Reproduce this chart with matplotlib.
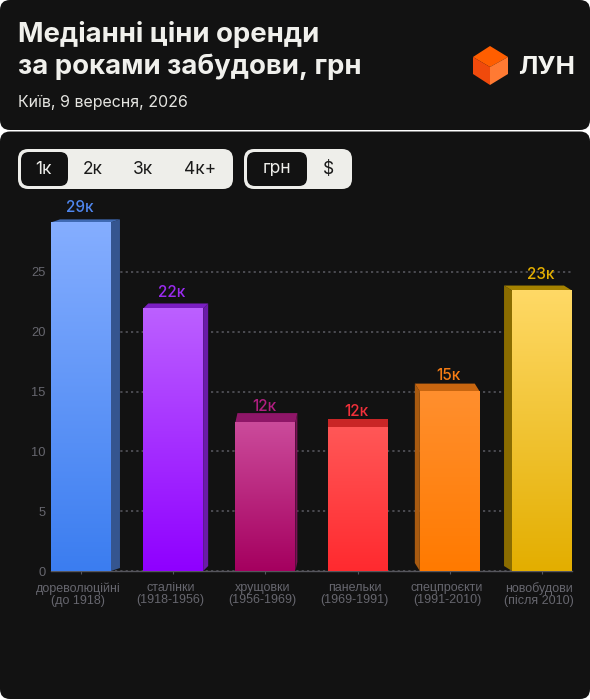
import numpy as np
import matplotlib
matplotlib.use('Agg')
import matplotlib.pyplot as plt
from matplotlib.colors import LinearSegmentedColormap
from matplotlib.patches import FancyBboxPatch, Polygon
from matplotlib.transforms import ScaledTranslation

# data
categories = ['дореволюційні\n(до 1918)', 'сталінки\n(1918-1956)', 'хрущовки\n(1956-1969)',
              'панельки\n(1969-1991)', 'спецпроєкти\n(1991-2010)', 'новобудови\n(після 2010)']
values = [29.15, 21.95, 12.45, 12.0, 15.0, 23.45]
value_labels = ['29к', '22к', '12к', '12к', '15к', '23к']
y_ticks = [0, 5, 10, 15, 20, 25]
room_tabs = ['1к', '2к', '3к', '4к+']
currency_tabs = ['грн', '$']

# colours of each bar
grad_top = ['#85AEFF', '#BC60FF', '#CB4B9B', '#FF5757', '#FF8F2E', '#FFD966']
grad_bottom = ['#3B7DF0', '#8F00FF', '#A5005F', '#FF2A2F', '#FF7A00', '#E3AE00']
side_colors = ['#35558F', '#6A1BA8', '#7A1055', '#A02020', '#A85A10', '#8A6C00']
top_colors = ['#3F6AB3', '#7A1EC2', '#8F1668', '#C92626', '#C86610', '#A58200']
label_colors = ['#4F86EE', '#9A2BF0', '#B01E80', '#F0303A', '#F57C14', '#E3AE00']
# 3d offset of the back face in pixels (x, y), gap from back edge to label centre
depth_x = [9, 5, 2, 0, -5, -8]
depth_y = [3, 5, 9, 8, 8, 5]
label_gap = [12, 11, 7, 8, 8, 11]

BG = '#121212'
LIGHT = '#EEEEEA'
W, H = 590, 700

plt.rcParams['font.family'] = ['Inter', 'DejaVu Sans']
fig = plt.figure(figsize=(W / 100, H / 100), dpi=100, facecolor='white')

# page furniture in pixel coordinates
bg = fig.add_axes([0, 0, 1, 1])
bg.set_xlim(0, W)
bg.set_ylim(H, 0)
bg.axis('off')


def box(x, y, w, h, r, fc, ec='none', lw=0, z=1):
    bg.add_patch(FancyBboxPatch((x + r, y + r), w - 2 * r, h - 2 * r,
                                boxstyle='round,pad=%s,rounding_size=%s' % (r, r),
                                fc=fc, ec=ec, lw=lw, zorder=z))


box(0, 0, W, 130, 10, BG)
box(0, 131.5, W, 567.5, 10, BG)

bg.text(18, 34.5, 'Медіанні ціни оренди', color='#F0F0EC', fontsize=19.8, fontweight='bold', va='center')
bg.text(18, 66.5, 'за роками забудови, грн', color='#F0F0EC', fontsize=19.8, fontweight='bold', va='center')
bg.text(18, 102, 'Київ, 9 вересня, 2026', color='#E4E4E0', fontsize=11.5, va='center')

# logo
bg.add_patch(Polygon([(490, 46), (508, 57), (490, 67), (473, 57)], fc='#FF5E00', ec='none', zorder=2))
bg.add_patch(Polygon([(473, 57), (490, 67), (490, 85), (473, 74)], fc='#F04A0C', ec='none', zorder=2))
bg.add_patch(Polygon([(490, 67), (508, 57), (508, 74), (490, 85)], fc='#FF7A33', ec='none', zorder=2))
bg.text(518, 67, 'ЛУН', color='#F4F4F0', fontsize=18.7, fontweight='bold', va='center')

# tabs
box(18, 149, 215, 40, 10, LIGHT)
box(244, 149, 108, 40, 10, LIGHT)
box(21, 152, 47, 34, 8, BG)
box(247, 152, 60, 34, 8, BG)
for tab, cx in zip(room_tabs, [43, 93, 143, 200]):
    bg.text(cx, 169, tab, ha='center', va='center', fontsize=12.5,
            color=LIGHT if tab == '1к' else '#1A1A1A')
for tab, cx in zip(currency_tabs, [277, 328]):
    bg.text(cx, 169, tab, ha='center', va='center', fontsize=12.5,
            color=LIGHT if tab == 'грн' else '#1A1A1A')

# chart: 92.2 px per category, 11.96 px per unit
x_scale = 92.2
y_scale = 11.96
ax_left, ax_right, ax_bottom = 51, 572, 571
ymax = 31
ax = fig.add_axes([ax_left / W, (H - ax_bottom) / H, (ax_right - ax_left) / W, ymax * y_scale / H])
ax.patch.set_alpha(0)
xs = np.arange(len(values))
bar_w = 0.65

for i, v in enumerate(values):
    x0, x1 = xs[i] - bar_w / 2, xs[i] + bar_w / 2
    dx = depth_x[i] / x_scale
    dy = depth_y[i] / y_scale
    cmap = LinearSegmentedColormap.from_list('b%d' % i, [grad_top[i], grad_bottom[i]])
    ax.imshow(np.linspace(0, 1, 256).reshape(-1, 1), cmap=cmap, aspect='auto',
              extent=(x0, x1, 0, v), zorder=4, interpolation='bilinear')
    # side and top faces
    edge = x1 if dx > 0 else x0
    if dx != 0:
        ax.add_patch(Polygon([(edge, 0), (edge + dx, dy), (edge + dx, v + dy), (edge, v)],
                             fc=side_colors[i], ec='none', zorder=3, clip_on=False))
    ax.add_patch(Polygon([(x0, v), (x1, v), (x1 + dx, v + dy), (x0 + dx, v + dy)],
                         fc=top_colors[i], ec='none', zorder=3, clip_on=False))
    ax.text(xs[i] - 1.5 / x_scale, v + dy + label_gap[i] / y_scale, value_labels[i], ha='center', va='center',
            color=label_colors[i], fontsize=11, fontweight='medium', zorder=5)

ax.set_xlim(-30 / x_scale, 5 + 30 / x_scale)
ax.set_ylim(0, ymax)

ax.set_yticks(y_ticks)
ax.set_xticks(xs)
ax.set_xticklabels(categories, fontsize=9, color='#66666E', family='Liberation Sans', linespacing=1.0)
ax.set_yticklabels(y_ticks, fontsize=9.3, color='#66666E', family='Liberation Sans')
ax.tick_params(axis='y', length=0, pad=4)
ax.tick_params(axis='x', length=2.2, width=0.8, color='#55555C', pad=6)
# labels sit a bit left of their ticks in the original
shift = ScaledTranslation(-2.8 / 100, 0, fig.dpi_scale_trans)
for lab in ax.get_xticklabels():
    lab.set_transform(lab.get_transform() + shift)
ax.grid(axis='y', color='#55555C', linestyle=(0, (1.3, 1.9)), linewidth=1.2, zorder=1)
ax.set_axisbelow(True)
for s in ['top', 'left', 'right']:
    ax.spines[s].set_visible(False)
ax.spines['bottom'].set_color('#55555C')
ax.spines['bottom'].set_linewidth(1)

fig.savefig('out.png', dpi=100, facecolor=fig.get_facecolor())
